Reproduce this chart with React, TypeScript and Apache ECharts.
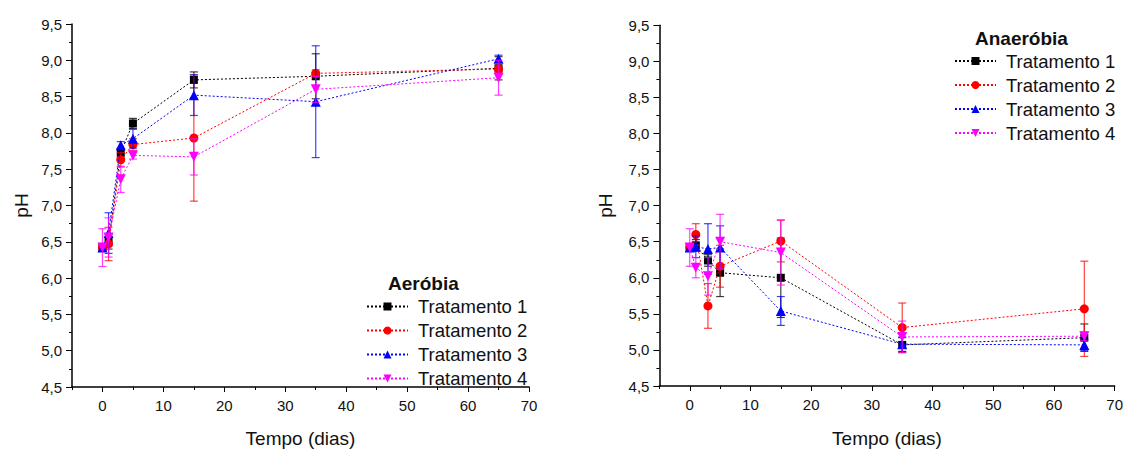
import React, { useEffect, useRef } from "react";
import * as echarts from "echarts";

// ---- data ----
const days = [0, 1, 3, 5, 15, 35, 65];
const seriesNames = ["Tratamento 1", "Tratamento 2", "Tratamento 3", "Tratamento 4"];
const xMajorTicks = [0, 10, 20, 30, 40, 50, 60, 70];
const xMinorTicks = [-5, 5, 15, 25, 35, 45, 55, 65];

// Aeróbia
const aerT1 = [6.42, 6.5, 7.73, 8.13, 8.73, 8.78, 8.89];
const aerT1Err = [0.05, 0.1, 0.06, 0.07, 0.11, 0.31, 0.16];
const aerT2 = [6.42, 6.47, 7.63, 7.84, 7.93, 8.82, 8.88];
const aerT2Err = [0.05, 0.23, 0.1, 0.08, 0.87, 0.05, 0.05];
const aerT3 = [6.42, 6.62, 7.83, 7.92, 8.52, 8.43, 9.02];
const aerT3Err = [0.05, 0.28, 0.05, 0.13, 0.28, 0.77, 0.05];
const aerT4 = [6.42, 6.56, 7.36, 7.69, 7.67, 8.6, 8.76];
const aerT4Err = [0.26, 0.27, 0.18, 0.05, 0.25, 0.18, 0.24];

// Anaeróbia
const anaT1 = [6.42, 6.45, 6.24, 6.07, 6.0, 5.07, 5.17];
const anaT1Err = [0.05, 0.08, 0.08, 0.33, 0.55, 0.1, 0.19];
const anaT2 = [6.42, 6.6, 5.61, 6.16, 6.51, 5.31, 5.57];
const anaT2Err = [0.05, 0.15, 0.31, 0.29, 0.29, 0.34, 0.66];
const anaT3 = [6.42, 6.43, 6.4, 6.42, 5.54, 5.08, 5.07];
const anaT3Err = [0.05, 0.15, 0.35, 0.3, 0.2, 0.1, 0.08];
const anaT4 = [6.42, 6.14, 6.02, 6.5, 6.35, 5.18, 5.19];
const anaT4Err = [0.26, 0.14, 0.26, 0.38, 0.45, 0.22, 0.06];

const colors = ["#000000", "#ff0000", "#0000ff", "#ff00ff"];
const symbols = ["rect", "circle", "triangle", "triangle"];
const symbolRotates = [0, 0, 0, 180];
const symbolSizes = [8, 9, 10, 10];

const FONT = "'Liberation Sans', Arial, sans-serif";

function buildSeries(
  vals: number[][],
  errs: number[][],
  xAxisIndex: number,
  yAxisIndex: number,
  tag: string
) {
  const out: any[] = [];
  vals.forEach((v, k) => {
    const color = colors[k];
    out.push({
      type: "custom",
      name: `err-${tag}-${k}`,
      xAxisIndex,
      yAxisIndex,
      z: 2 + k * 2,
      data: days.map((d, i) => [d, v[i] - errs[k][i], v[i] + errs[k][i]]),
      encode: { x: 0, y: [1, 2] },
      renderItem: (_p: any, api: any) => {
        const x = api.value(0);
        const top = api.coord([x, api.value(2)]);
        const bot = api.coord([x, api.value(1)]);
        const w = 4;
        const style = { stroke: color, lineWidth: 1.2, opacity: 0.75 };
        return {
          type: "group",
          children: [
            { type: "line", shape: { x1: top[0], y1: top[1], x2: bot[0], y2: bot[1] }, style },
            { type: "line", shape: { x1: top[0] - w, y1: top[1], x2: top[0] + w, y2: top[1] }, style },
            { type: "line", shape: { x1: bot[0] - w, y1: bot[1], x2: bot[0] + w, y2: bot[1] }, style },
          ],
        };
      },
    });
    out.push({
      type: "line",
      name: seriesNames[k],
      xAxisIndex,
      yAxisIndex,
      z: 3 + k * 2,
      data: days.map((d, i) => [d, v[i]]),
      symbol: symbols[k],
      symbolRotate: symbolRotates[k],
      symbolSize: symbolSizes[k],
      showAllSymbol: true,
      lineStyle: { color, width: 1, type: [2, 2] },
      itemStyle: { color },
      emphasis: { disabled: true },
    });
  });
  return out;
}

function xAxes(gridIndex: number, nameGap: number) {
  return [
    {
      type: "value",
      gridIndex,
      min: -5,
      max: 70,
      interval: 5,
      position: "bottom",
      name: "Tempo (dias)",
      nameLocation: "middle",
      nameGap,
      nameTextStyle: { fontSize: 19, color: "#111", fontFamily: FONT },
      axisLine: { onZero: false, lineStyle: { color: "#000", width: 1.5 } },
      axisTick: { show: true, customValues: xMajorTicks, length: 5, lineStyle: { color: "#000", width: 1 } },
      axisLabel: {
        customValues: xMajorTicks,
        fontSize: 15,
        color: "#111",
        fontFamily: FONT,
        margin: 11,
      },
      splitLine: { show: false },
    },
    {
      type: "value",
      gridIndex,
      min: -5,
      max: 70,
      interval: 5,
      position: "bottom",
      axisLine: { show: false, onZero: false },
      axisTick: { show: true, customValues: xMinorTicks, length: 3, lineStyle: { color: "#000", width: 1 } },
      axisLabel: { show: false },
      splitLine: { show: false },
    },
  ];
}

function yAxis(gridIndex: number, nameGap: number) {
  return {
    type: "value",
    gridIndex,
    min: 4.5,
    max: 9.5,
    interval: 0.5,
    name: "pH",
    nameLocation: "middle",
    nameGap,
    nameTextStyle: { fontSize: 19, color: "#111", fontFamily: FONT },
    axisLine: { show: true, onZero: false, lineStyle: { color: "#000", width: 1.5 } },
    axisTick: { show: true, length: 6, lineStyle: { color: "#000", width: 1 } },
    minorTick: { show: true, splitNumber: 2, length: 3, lineStyle: { color: "#000", width: 1 } },
    axisLabel: {
      fontSize: 15,
      color: "#111",
      fontFamily: FONT,
      margin: 10,
      formatter: (v: number) => v.toFixed(1).replace(".", ","),
    },
    splitLine: { show: false },
    minorSplitLine: { show: false },
  };
}

export default function App() {
  const ref = useRef<HTMLDivElement>(null);
  useEffect(() => {
    if (!ref.current) return;
    const chart = echarts.init(ref.current, undefined, { renderer: "svg" });
    const legendBase = {
      orient: "vertical",
      padding: 0,
      itemWidth: 41,
      itemHeight: 10,
      itemGap: 5,
      data: seriesNames,
      selectedMode: false,
      textStyle: {
        fontSize: 18.5,
        color: "#111",
        fontFamily: FONT,
        lineHeight: 18.5,
        padding: [0, 0, 0, 5],
      },
    };
    const titleStyle = { fontSize: 19, fontWeight: "bold", color: "#111", fontFamily: FONT };
    chart.setOption({
      animation: false,
      backgroundColor: "#ffffff",
      textStyle: { fontFamily: FONT },
      title: [
        { text: "Aeróbia", left: 388, top: 274, padding: 0, textStyle: titleStyle },
        { text: "Anaeróbia", left: 975, top: 28.5, padding: 0, textStyle: titleStyle },
      ],
      legend: [
        { ...legendBase, left: 366, top: 297 },
        { ...legendBase, left: 954, top: 51.5 },
      ],
      grid: [
        { left: 72, top: 24, width: 457, height: 369 },
        { left: 659.4, top: 25.3, width: 455.8, height: 368.7 },
      ],
      xAxis: [...xAxes(0, 42), ...xAxes(1, 43)],
      yAxis: [yAxis(0, 41), yAxis(1, 44)],
      series: [
        ...buildSeries([aerT1, aerT2, aerT3, aerT4], [aerT1Err, aerT2Err, aerT3Err, aerT4Err], 0, 0, "aer"),
        ...buildSeries([anaT1, anaT2, anaT3, anaT4], [anaT1Err, anaT2Err, anaT3Err, anaT4Err], 2, 1, "ana"),
      ],
    });
    return () => chart.dispose();
  }, []);
  return (
    <div
      ref={ref}
      style={{ position: "fixed", left: 0, top: 0, width: 1126, height: 453, background: "#fff" }}
    />
  );
}
